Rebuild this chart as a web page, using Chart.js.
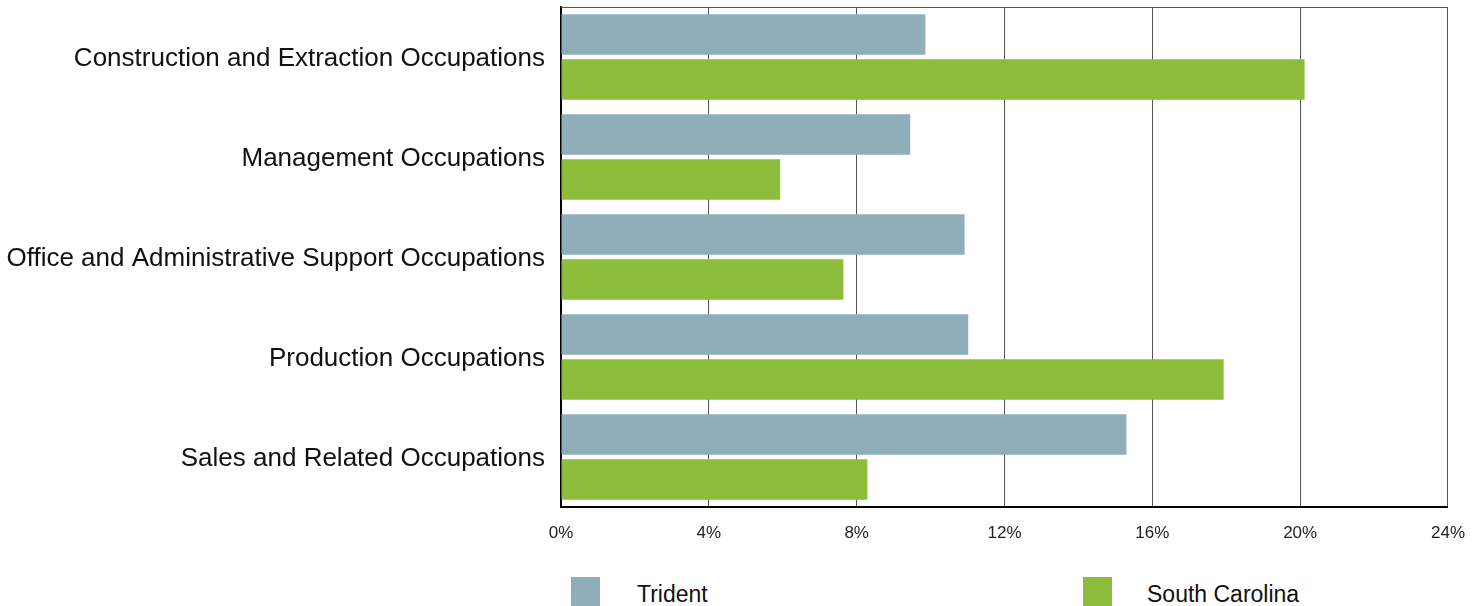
<!DOCTYPE html>
<html>
<head>
<meta charset="utf-8">
<script src="https://cdn.jsdelivr.net/npm/chart.js@4/dist/chart.umd.min.js"></script>
<style>
  html, body { margin: 0; padding: 0; background: #fff; }
  #wrap { position: relative; width: 1481px; height: 606px; overflow: hidden; font-family: "Liberation Sans", Arial, sans-serif; }
  #box { position: absolute; left: 0; top: 0; width: 1481px; height: 560px; }
  .lg-swatch { position: absolute; width: 29px; height: 29px; top: 577px; }
  .lg-text { position: absolute; top: 581px; font-size: 23px; line-height: normal; color: #111; white-space: nowrap; }
</style>
</head>
<body>
<div id="wrap">
  <div id="box"><canvas id="c"></canvas></div>
  <div class="lg-swatch" id="sw0" style="left:571px;"></div>
  <div class="lg-text" id="lt0" style="left:637px;"></div>
  <div class="lg-swatch" id="sw1" style="left:1083px;"></div>
  <div class="lg-text" id="lt1" style="left:1147px;"></div>
</div>
<script>
const categories = [
  "Construction and Extraction Occupations",
  "Management Occupations",
  "Office and Administrative Support Occupations",
  "Production Occupations",
  "Sales and Related Occupations"
];
const seriesNames = ["Trident", "South Carolina"];
const tridentValues = [9.86, 9.45, 10.92, 11.02, 15.30];
const southCarolinaValues = [20.12, 5.93, 7.64, 17.93, 8.29];
const xTickValues = [0, 4, 8, 12, 16, 20, 24];

const colors = ["#8FAEBA", "#8DBD3B"];

document.getElementById("sw0").style.background = colors[0];
document.getElementById("sw1").style.background = colors[1];
document.getElementById("lt0").textContent = seriesNames[0];
document.getElementById("lt1").textContent = seriesNames[1];

const topBorder = {
  id: "topBorder",
  afterDatasetsDraw(chart) {
    const a = chart.chartArea, ctx = chart.ctx;
    ctx.save();
    ctx.strokeStyle = "#555";
    ctx.lineWidth = 1;
    ctx.beginPath();
    ctx.moveTo(a.left, Math.round(a.top) + 0.5);
    ctx.lineTo(a.right, Math.round(a.top) + 0.5);
    ctx.stroke();
    ctx.restore();
  }
};

new Chart(document.getElementById("c"), {
  type: "bar",
  data: {
    labels: categories,
    datasets: [
      { label: seriesNames[0], data: tridentValues, backgroundColor: colors[0], borderWidth: 0 },
      { label: seriesNames[1], data: southCarolinaValues, backgroundColor: colors[1], borderWidth: 0 }
    ]
  },
  options: {
    indexAxis: "y",
    responsive: true,
    maintainAspectRatio: false,
    animation: false,
    layout: { padding: { top: 7, right: 0, left: 0, bottom: 0 } },
    datasets: { bar: { categoryPercentage: 0.9, barPercentage: 0.9 } },
    plugins: {
      legend: { display: false },
      tooltip: { enabled: false }
    },
    scales: {
      x: {
        type: "linear",
        min: 0,
        max: 24,
        afterBuildTicks(scale) { scale.ticks = xTickValues.map(v => ({ value: v })); },
        afterFit(scale) { scale.height = 53; },
        ticks: {
          padding: 16,
          color: "#222",
          font: { family: "'Liberation Sans', Arial, sans-serif", size: 17 },
          callback: v => v + "%"
        },
        grid: { display: true, color: "#555", lineWidth: 1, drawTicks: false },
        border: { display: true, color: "#000", width: 2 }
      },
      y: {
        afterFit(scale) { scale.width = 561; scale.paddingTop = 0; scale.paddingBottom = 0; },
        ticks: {
          padding: 16,
          labelOffset: 2,
          color: "#111",
          font: { family: "'Liberation Sans', Arial, sans-serif", size: 26 }
        },
        grid: { display: false, drawTicks: false },
        border: { display: true, color: "#000", width: 2 }
      }
    }
  },
  plugins: [topBorder]
});
</script>
</body>
</html>
